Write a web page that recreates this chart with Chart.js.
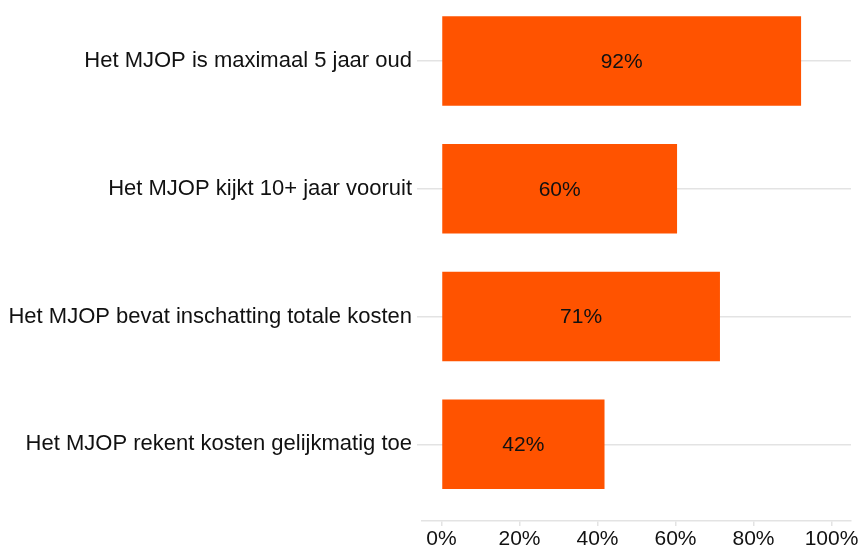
<!DOCTYPE html>
<html>
<head>
<meta charset="utf-8">
<script src="https://cdn.jsdelivr.net/npm/chart.js@4"></script>
<style>
  html, body { margin: 0; padding: 0; background: #fff; }
  #wrap { width: 859px; height: 549px; }
</style>
</head>
<body>
<div id="wrap"><canvas id="mjopChart" width="859" height="549"></canvas></div>
<script>
// Chart data
const categories = [
    'Het MJOP is maximaal 5 jaar oud',
    'Het MJOP kijkt 10+ jaar vooruit',
    'Het MJOP bevat inschatting totale kosten',
    'Het MJOP rekent kosten gelijkmatig toe'
];
const percentages = [92.2, 60.4, 71.4, 41.8];
const xTickValues = [0, 20, 40, 60, 80, 100];

const barColor = '#FF5300';
const gridColor = '#E3E3E3';
const textColor = '#111111';
const fontFamily = '"Liberation Sans", Arial, sans-serif';

// Draw the percentage labels in the middle of each bar
const barLabels = {
    id: 'barLabels',
    afterDatasetsDraw(chart) {
        const ctx = chart.ctx;
        const meta = chart.getDatasetMeta(0);
        ctx.save();
        ctx.font = '21px ' + fontFamily;
        ctx.fillStyle = textColor;
        ctx.textAlign = 'center';
        ctx.textBaseline = 'middle';
        meta.data.forEach((bar, i) => {
            const x = (bar.x + bar.base) / 2;
            ctx.fillText(Math.round(percentages[i]) + '%', x, bar.y + 1);
        });
        ctx.restore();
    }
};

document.addEventListener('DOMContentLoaded', function() {
    const ctx = document.getElementById('mjopChart').getContext('2d');
    new Chart(ctx, {
        type: 'bar',
        data: {
            datasets: [{
                data: percentages.map((v, i) => ({ x: v, y: i })),
                backgroundColor: barColor,
                borderWidth: 0,
                barPercentage: 0.7,
                categoryPercentage: 1
            }]
        },
        options: {
            indexAxis: 'y',
            responsive: false,
            animation: false,
            layout: { padding: { top: 0, right: 8, left: 0, bottom: -1 } },
            plugins: {
                legend: { display: false },
                tooltip: { enabled: false }
            },
            scales: {
                x: {
                    type: 'linear',
                    min: -5,
                    max: 105,
                    afterBuildTicks: axis => {
                        axis.ticks = xTickValues.map(v => ({ value: v }));
                    },
                    afterFit: scale => {
                        scale.paddingLeft = 0;
                        scale.paddingRight = 0;
                        scale.height = 29;
                    },
                    border: { display: true, color: gridColor, width: 1.5 },
                    grid: {
                        drawOnChartArea: false,
                        drawTicks: true,
                        tickLength: 5,
                        color: gridColor,
                        lineWidth: 1.5
                    },
                    ticks: {
                        color: textColor,
                        padding: 3,
                        maxRotation: 0,
                        font: { family: fontFamily, size: 21, lineHeight: 1 },
                        callback: value => value + '%'
                    }
                },
                y: {
                    type: 'linear',
                    reverse: true,
                    offset: false,
                    min: -0.477,
                    max: 3.6,
                    afterBuildTicks: axis => {
                        axis.ticks = categories.map((_, i) => ({ value: i }));
                    },
                    afterFit: scale => {
                        scale.paddingTop = 0;
                        scale.paddingBottom = 0;
                        scale.width = 422;
                    },
                    border: { display: false },
                    grid: {
                        offset: false,
                        color: gridColor,
                        lineWidth: 1.5,
                        drawTicks: true,
                        tickLength: 5
                    },
                    ticks: {
                        color: textColor,
                        padding: 5,
                        font: { family: fontFamily, size: 22 },
                        callback: value => categories[value] || ''
                    }
                }
            }
        },
        plugins: [barLabels]
    });
});
</script>
</body>
</html>
